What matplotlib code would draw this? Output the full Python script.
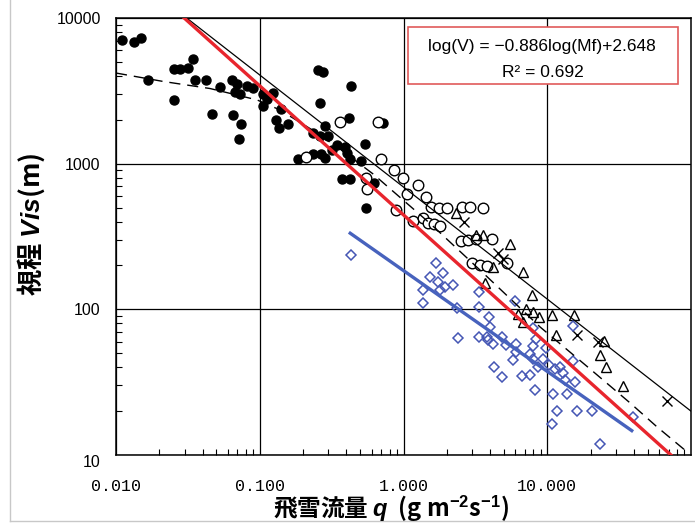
import numpy as np
import matplotlib
matplotlib.use('Agg')
import matplotlib.pyplot as plt
from matplotlib.patches import Rectangle
from matplotlib.lines import Line2D
from matplotlib.ticker import LogLocator, NullFormatter

# mathtext pieces (italic q, Vis, superscripts) in a bold Arial-like face
plt.rcParams['mathtext.fontset'] = 'custom'
plt.rcParams['mathtext.it'] = 'Liberation Sans:italic:bold'
plt.rcParams['mathtext.rm'] = 'Liberation Sans:bold'

# ---- data (q in g m-2 s-1, Vis in m) ----
# filled black circles
fill_q = [0.011, 0.0133, 0.0149, 0.0166, 0.0253, 0.0279, 0.0318, 0.0345, 0.0354, 0.0423,
          0.0253, 0.0529, 0.0463, 0.0638, 0.0692, 0.0673, 0.0729, 0.0812, 0.0902, 0.105,
          0.112, 0.124, 0.106, 0.141, 0.0655, 0.0741, 0.0721, 0.129, 0.137, 0.158,
          0.256, 0.274, 0.431, 0.263, 0.420, 0.724, 0.284, 0.236, 0.263, 0.300,
          0.343, 0.392, 0.540, 0.317, 0.403, 0.424, 0.506, 0.185, 0.236, 0.266,
          0.284, 0.372, 0.424, 0.627, 0.548]
fill_v = [7060, 6810, 7260, 3740, 4470, 4470, 4560, 5260, 3740, 3740,
          2750, 3360, 2200, 3740, 3540, 3120, 3000, 3430, 3320, 3000,
          2790, 3060, 2480, 2370, 2160, 1870, 1480, 2000, 1770, 1870,
          4420, 4240, 3430, 2600, 2060, 1890, 1810, 1630, 1560, 1550,
          1340, 1300, 1370, 1240, 1180, 1070, 1050, 1070, 1160, 1160,
          1090, 781, 781, 734, 494]

# open black circles
open_q = [0.362, 0.668, 0.209, 0.698, 0.548, 0.560, 0.859, 0.997, 1.066, 1.262,
          1.441, 0.880, 1.561, 1.780, 1.998, 2.541, 2.901, 3.590, 1.170, 1.373,
          1.481, 1.643, 1.794, 2.492, 2.810, 3.209, 4.108, 2.981, 3.405, 3.809, 5.207]
open_v = [1930, 1940, 1110, 1080, 794, 671, 898, 798, 619, 718,
          594, 479, 507, 500, 497, 504, 504, 500, 404, 421,
          389, 387, 374, 295, 297, 302, 306, 207, 200, 199, 207]

# open triangles
tri_q = [2.330, 3.184, 3.590, 5.55, 4.214, 6.78, 3.707, 7.83, 7.17, 6.29,
         8.00, 8.81, 6.83, 10.84, 15.30, 11.56, 24.82, 23.17, 25.63, 33.49]
tri_v = [457, 326, 326, 280, 195, 181, 151, 126, 100, 93.3,
         95.2, 89.1, 81.6, 91.8, 91.9, 66.4, 60.2, 48.6, 40.2, 29.8]

# crosses
cross_q = [2.636, 4.543, 4.922, 16.03, 22.37, 67.8]
cross_v = [398, 244, 222, 66.2, 60.0, 23.5]

# blue open diamonds
dia_q = [0.429, 1.670, 1.529, 1.892, 1.746, 1.944, 1.794, 2.220, 1.367, 1.373,
         3.335, 2.356, 3.367, 3.933, 5.966, 3.996, 2.375, 3.341, 3.791, 3.890,
         4.194, 4.883, 5.164, 6.061, 6.061, 5.777, 7.586, 8.00, 7.90, 8.35,
         8.00, 8.66, 9.39, 9.80, 10.29, 11.32, 12.93, 12.27, 15.18, 15.10,
         15.60, 13.65, 11.02, 8.22, 6.64, 7.586, 4.262, 4.821, 11.63, 10.82,
         16.23, 20.64, 23.28, 39.68, 13.29]
dia_v = [236, 207, 168, 177, 155, 143, 136, 148, 136, 111,
         132, 102, 103, 88.0, 114, 76.1, 63.3, 64.9, 64.9, 61.7,
         57.9, 64.1, 57.0, 57.4, 50.6, 45.0, 49.4, 45.4, 55.6, 62.6,
         74.6, 40.4, 45.3, 54.3, 41.5, 38.7, 36.6, 40.4, 44.2, 76.9,
         31.9, 26.3, 26.3, 27.8, 34.6, 35.5, 39.9, 34.5, 20.0, 16.2,
         20.1, 20.1, 11.9, 18.2, 32.8]

# fitted lines
red_q = [0.0298, 72.5]        # log(V) = -0.886log(Mf)+2.648
red_v = [10000, 10]
solid_q = [0.031, 100]
solid_v = [10000, 20]
blue_q = [0.426, 38.7]
blue_v = [333, 14.7]
dash_q = [0.01, 0.0212, 0.0451, 0.0957, 0.138, 0.224, 0.362, 0.614, 1.529, 3.573,
          8.91, 19.83, 37.64, 58.0, 90.8]
dash_v = [4190, 3670, 3280, 2740, 2340, 1740, 1260, 850, 389, 178,
          75.7, 39.0, 22.8, 15.6, 10.8]

x_ticks = [0.01, 0.1, 1, 10]
x_tick_labels = ['0.010', '0.100', '1.000', '10.000']
y_ticks = [10, 100, 1000, 10000]
y_tick_labels = ['10', '100', '1000', '10000']

eq_text = 'log(V) = \u22120.886log(Mf)+2.648'
r2_text = 'R\u00b2 = 0.692'

# ---- figure ----
fig = plt.figure(figsize=(6.95, 5.25), dpi=100)
ax = fig.add_axes([116 / 695, 70 / 525, 575 / 695, 437 / 525])
ax.set_xscale('log')
ax.set_yscale('log')
ax.set_xlim(0.01, 100)
ax.set_ylim(10, 10000)

ax.set_axisbelow(True)
ax.grid(True, which='major', color='black', lw=0.9)

ax.plot(fill_q, fill_v, 'o', ls='none', color='black', ms=6.5, zorder=3)
ax.plot(open_q, open_v, 'o', ls='none', mfc='white', mec='black', mew=1.0, ms=7.6, zorder=3)
ax.plot(tri_q, tri_v, '^', ls='none', mfc='none', mec='black', mew=1.0, ms=7.8, zorder=3)
ax.plot(cross_q, cross_v, 'x', ls='none', color='black', mew=1.0, ms=6.5, zorder=3)
ax.plot(dia_q, dia_v, 'D', ls='none', mfc='none', mec='#4556b4', mew=1.1, ms=5.4, zorder=3)

ax.plot(solid_q, solid_v, color='black', lw=0.9, zorder=4)
ax.plot(dash_q, dash_v, color='black', lw=1.0, ls=(0, (8, 5)), zorder=4)
ax.plot(blue_q, blue_v, color='#4762bd', lw=2.4, zorder=4)
ax.plot(red_q, red_v, color='#e8252d', lw=2.4, zorder=4)

ax.set_xticks(x_ticks)
ax.set_xticklabels(x_tick_labels, fontfamily='Liberation Mono', fontsize=12)
ax.set_yticks(y_ticks)
ylabels = ax.set_yticklabels(y_tick_labels, fontfamily='Liberation Sans', fontsize=11.5)
ylabels[0].set_verticalalignment('top')
for axis in (ax.xaxis, ax.yaxis):
    axis.set_minor_locator(LogLocator(base=10, subs=np.arange(2, 10), numticks=20))
    axis.set_minor_formatter(NullFormatter())
ax.tick_params(which='major', length=0)
ax.tick_params(axis='x', which='major', pad=17)
ax.tick_params(axis='y', which='major', pad=11)
ax.tick_params(which='minor', direction='in', length=4, width=0.8, color='black')
for s in ax.spines.values():
    s.set_linewidth(1.1)

# equation box
ax.add_patch(Rectangle((0.508, 0.849), 0.469, 0.130, transform=ax.transAxes,
                       facecolor='white', edgecolor='#e05a5a', lw=1.2, zorder=5))
ax.text(0.740, 0.934, eq_text, transform=ax.transAxes, ha='center', va='center',
        fontsize=12.5, fontfamily='Liberation Sans', zorder=6)
ax.text(0.742, 0.876, r2_text, transform=ax.transAxes, ha='center', va='center',
        fontsize=12.5, fontfamily='Liberation Sans', zorder=6)

# axis titles
fig.text(391 / 695, 1 - 509 / 525, r'飛雪流量 $q$  (g m$^{-2}$s$^{-1}$)', ha='center', va='center',
         fontsize=17, fontweight='bold', fontfamily='Noto Sans CJK JP')
fig.text(31 / 695, 1 - 224 / 525, r'視程 $Vis$(m)', rotation=90, ha='center', va='center',
         fontsize=19, fontweight='bold', fontfamily='Noto Sans CJK JP')

# thin grey frame lines of the original figure
fig.add_artist(Line2D([10 / 695, 10 / 695], [1 - 521 / 525, 1], transform=fig.transFigure,
                      color='#c8c8c8', lw=1))
fig.add_artist(Line2D([10 / 695, 1], [1 - 521 / 525, 1 - 521 / 525], transform=fig.transFigure,
                      color='#c8c8c8', lw=1))

fig.savefig('out.png', dpi=100)
